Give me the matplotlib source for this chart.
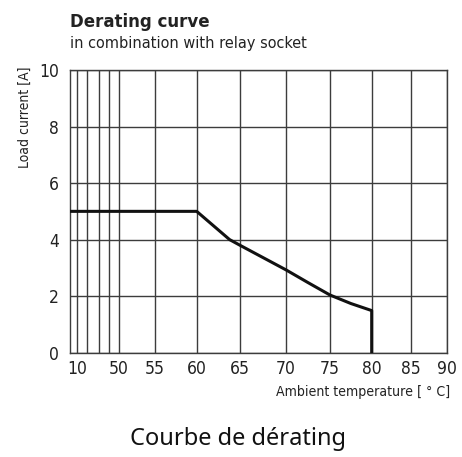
import numpy as np
import matplotlib
matplotlib.use("Agg")
import matplotlib.pyplot as plt

# derating curve
temp = [0, 60, 63.8, 65, 70, 72.5, 75, 77.5, 80, 80]
current = [5, 5, 4.0, 3.8, 2.93, 2.48, 2.04, 1.74, 1.49, 0]

x_ticks = [10, 20, 30, 40, 50, 55, 60, 65, 70, 75, 80, 85, 90]
x_labels = ["10", "", "", "", "50", "55", "60", "65", "70", "75", "80", "85", "90"]
y_ticks = [0, 2, 4, 6, 8, 10]

# hand-drawn axis: the grid lines are not evenly spaced
scale_val = np.array([0, 10, 20, 30, 40, 50, 55, 60, 65, 70, 75, 80, 85, 90])
scale_pos = np.array([0, 6.7, 16.7, 29, 39, 49, 85, 126.7, 170, 216, 260, 301.7, 340.7, 377.3])

def fwd(v):
    return np.interp(v, scale_val, scale_pos)

def inv(p):
    return np.interp(p, scale_pos, scale_val)

cond = dict(family="DejaVu Sans", fontstretch="condensed")
grid_c = "#3c3c3c"

fig = plt.figure(figsize=(4.62, 4.57), dpi=100)
ax = fig.add_axes([70/462, 1-352.7/457, 377.3/462, 282.7/457])
ax.set_xscale("function", functions=(fwd, inv))
ax.set_xlim(0, 90)
ax.set_ylim(0, 10)

ax.set_xticks(x_ticks)
ax.set_xticklabels(x_labels, fontsize=12.5, **cond)
ax.set_yticks(y_ticks)
ax.set_yticklabels([str(v) for v in y_ticks], fontsize=12.5, **cond)
ax.minorticks_off()
ax.tick_params(length=0, pad=5, colors="#222222")
ax.tick_params(axis="y", pad=8)
ax.grid(True, color=grid_c, lw=1.0)
for s in ax.spines.values():
    s.set_color(grid_c)
    s.set_linewidth(1.0)

ax.plot(temp, current, color="#111111", lw=2.2, solid_joinstyle="round", zorder=3)

fig.text(70/462, 1-27/457, "Derating curve", fontsize=13.3,
         fontweight="bold", color="#222222", ha="left", va="baseline", **cond)
fig.text(70/462, 1-48/457, "in combination with relay socket",
         fontsize=11.6, color="#222222", ha="left", va="baseline", **cond)
fig.text(25/462, 1-67/457, "Load current [A]", fontsize=10,
         color="#222222", rotation=90, ha="center", va="top", **cond)
fig.text(450/462, 1-396/457, "Ambient temperature [ ° C]",
         fontsize=10.1, color="#222222", ha="right", va="baseline", **cond)
fig.text(238/462, 1-445/457, "Courbe de dérating", family="Noto Sans",
         fontsize=17, color="#111111", ha="center", va="baseline")

fig.savefig("out.png", dpi=100)
